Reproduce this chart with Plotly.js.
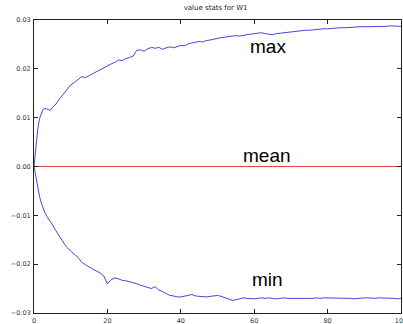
<!DOCTYPE html>
<html>
<head>
<meta charset="utf-8">
<script src="https://cdn.plot.ly/plotly-3.0.1.min.js"></script>
<style>html,body{margin:0;padding:0;background:#fff;}#chart{width:403px;height:324px;}</style>
</head>
<body>
<div id="chart"></div>
<script>
const steps = [0,0.5,1,1.5,2,2.5,3,3.5,4,4.5,5,5.5,6,6.5,7,7.5,8,8.5,9,9.5,10,
  11,12,13,14,15,16,17,18,19,20,21,22,23,24,25,26,27,28,29,30,
  31,32,33,34,35,36,37,38,39,40,41,42,43,44,45,46,47,48,49,50,
  51,52,53,54,55,56,57,58,59,60,61,62,63,64,65,66,67,68,69,70,
  71,72,73,74,75,76,77,78,79,80,81,82,83,84,85,86,87,88,89,90,
  91,92,93,94,95,96,97,98,99,100];

const maxValues = [0,0.004,0.0075,0.0098,0.011,0.0117,0.0119,0.0118,0.0116,0.0115,0.0121,0.0124,0.0128,0.0134,0.0139,0.0142,0.0148,0.0153,0.0157,0.0163,0.0167,
  0.0172,0.0178,0.0184,0.0182,0.0186,0.019,0.0195,0.0199,0.0203,0.0206,
  0.021,0.0213,0.0218,0.0217,0.0221,0.0223,0.0226,0.0238,0.0239,0.0236,
  0.0241,0.0244,0.0242,0.0244,0.024,0.0243,0.0245,0.0243,0.0246,0.0248,
  0.0247,0.0251,0.0253,0.0255,0.0256,0.0255,0.0258,0.0259,0.0261,0.0263,
  0.0264,0.0265,0.0266,0.0267,0.0268,0.0267,0.0269,0.027,0.0271,0.0272,
  0.0273,0.0274,0.0272,0.0271,0.027,0.0272,0.0273,0.0274,0.0274,0.0275,
  0.0276,0.0278,0.0278,0.0279,0.0279,0.028,0.0281,0.0282,0.0282,0.0282,
  0.0283,0.0283,0.0284,0.0284,0.0284,0.0284,0.0285,0.0286,0.0286,0.0286,
  0.0286,0.0287,0.0287,0.0287,0.0287,0.0287,0.0288,0.0288,0.0288,0.0287];

const minValues = [0,-0.0023,-0.0043,-0.0061,-0.0075,-0.0087,-0.0095,-0.0102,-0.0107,-0.0113,-0.0119,-0.0126,-0.0132,-0.0138,-0.0145,-0.0151,-0.0157,-0.0161,-0.0166,-0.017,-0.0174,
  -0.018,-0.0186,-0.0196,-0.0201,-0.0206,-0.021,-0.0214,-0.0218,-0.0224,-0.024,
  -0.0232,-0.0228,-0.023,-0.0233,-0.0234,-0.0236,-0.0237,-0.024,-0.0243,-0.0245,
  -0.0248,-0.025,-0.0246,-0.0253,-0.0256,-0.026,-0.0264,-0.0265,-0.0267,-0.0267,
  -0.0266,-0.0264,-0.0262,-0.0265,-0.0266,-0.0267,-0.0267,-0.0266,-0.0265,-0.0264,
  -0.0266,-0.0269,-0.0271,-0.0274,-0.0273,-0.0271,-0.0269,-0.027,-0.0271,-0.0271,
  -0.027,-0.0269,-0.027,-0.0269,-0.027,-0.0271,-0.027,-0.0269,-0.027,-0.027,
  -0.027,-0.0271,-0.027,-0.0271,-0.0271,-0.027,-0.0269,-0.027,-0.0269,-0.0269,
  -0.027,-0.027,-0.0269,-0.0269,-0.027,-0.027,-0.0271,-0.027,-0.027,-0.0269,
  -0.0269,-0.027,-0.027,-0.0269,-0.0269,-0.027,-0.027,-0.027,-0.0271,-0.027];

const meanX = [0, 100];
const meanValues = [0, 0];

const labelNames = ['max', 'mean', 'min'];
const labelX = [63.8, 63.6, 63.5];
const labelY = [0.0245, 0.0023, -0.0232];

const traces = [
  {x: steps, y: maxValues, mode: 'lines', line: {color: '#4545e0', width: 1}, hoverinfo: 'skip'},
  {x: steps, y: minValues, mode: 'lines', line: {color: '#4545e0', width: 1}, hoverinfo: 'skip'},
  {x: meanX, y: meanValues, mode: 'lines', line: {color: '#e04848', width: 1}, hoverinfo: 'skip'}
];

const axisCommon = {
  showgrid: false, zeroline: false, showline: true, mirror: 'ticks',
  linecolor: '#222', linewidth: 1, ticks: 'inside', ticklen: 4, tickcolor: '#222',
  tickfont: {family: 'DejaVu Sans', size: 6.5, color: '#333'},
  ticklabeloverflow: 'allow'
};

const layout = {
  width: 403, height: 324,
  margin: {l: 34, r: 2, t: 20, b: 11, pad: 0},
  paper_bgcolor: '#fff', plot_bgcolor: '#fff',
  showlegend: false,
  title: {text: 'value stats for W1', font: {family: 'DejaVu Sans', size: 7, color: '#222'},
    x: 0.535, xanchor: 'center', y: 0.978, yanchor: 'middle', yref: 'container'},
  xaxis: Object.assign({}, axisCommon, {range: [0, 100], tickvals: [0,20,40,60,80,100], ticklabelstandoff: 1}),
  yaxis: Object.assign({}, axisCommon, {range: [-0.03, 0.03], dtick: 0.01, tick0: 0, tickformat: '.2f', ticklabelstandoff: 1}),
  annotations: labelNames.map((t, i) => ({
    x: labelX[i], y: labelY[i], text: t, showarrow: false,
    xanchor: 'center', yanchor: 'middle',
    font: {family: 'Liberation Sans', size: 19, color: '#000'}
  }))
};

Plotly.newPlot('chart', traces, layout, {staticPlot: true, displayModeBar: false});
</script>
</body>
</html>
